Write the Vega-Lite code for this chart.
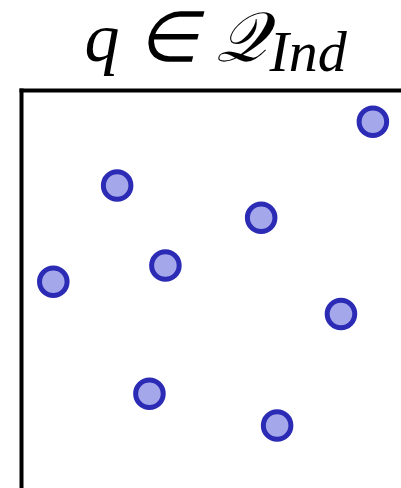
{
  "$schema": "https://vega.github.io/schema/vega-lite/v6.json",
  "width": 380,
  "height": 398,
  "autosize": {"type": "none"},
  "padding": {"left": 21, "top": 90, "right": 0, "bottom": 0},
  "background": "white",
  "config": {"view": {"stroke": null}},
  "data": {
    "values": [
      {"x": 0.926, "y": 0.920},
      {"x": 0.253, "y": 0.760},
      {"x": 0.632, "y": 0.679},
      {"x": 0.380, "y": 0.559},
      {"x": 0.085, "y": 0.518},
      {"x": 0.842, "y": 0.437},
      {"x": 0.338, "y": 0.237},
      {"x": 0.674, "y": 0.157}
    ]
  },
  "mark": {"type": "point", "shape": "circle", "filled": false, "fill": "#a4a7ea", "fillOpacity": 1, "stroke": "#2b2bb5", "strokeWidth": 5, "size": 760, "opacity": 1},
  "encoding": {
    "x": {"field": "x", "type": "quantitative", "scale": {"domain": [0, 1], "nice": false, "zero": false},
      "axis": {"orient": "top", "title": "Ind", "titleFont": "Liberation Serif", "titleFontSize": 58, "titleFontStyle": "italic", "titleFontWeight": "normal", "titleColor": "black", "titleX": 248, "titleY": -20, "titleAlign": "left", "titleBaseline": "alphabetic", "labels": false, "ticks": false, "grid": false, "domain": true, "domainColor": "black", "domainWidth": 4, "domainCap": "square"}},
    "y": {"field": "y", "type": "quantitative", "scale": {"domain": [0, 1], "nice": false, "zero": false},
      "axis": {"orient": "left", "title": "q ∈ 𝒬", "titleFont": "Liberation Serif", "titleFontSize": 70, "titleFontStyle": "italic", "titleFontWeight": "normal", "titleColor": "black", "titleAngle": 0, "titleX": 63, "titleY": -30, "titleAlign": "left", "titleBaseline": "alphabetic", "labels": false, "ticks": false, "grid": false, "domain": true, "domainColor": "black", "domainWidth": 4, "domainCap": "square"}}
  }
}
